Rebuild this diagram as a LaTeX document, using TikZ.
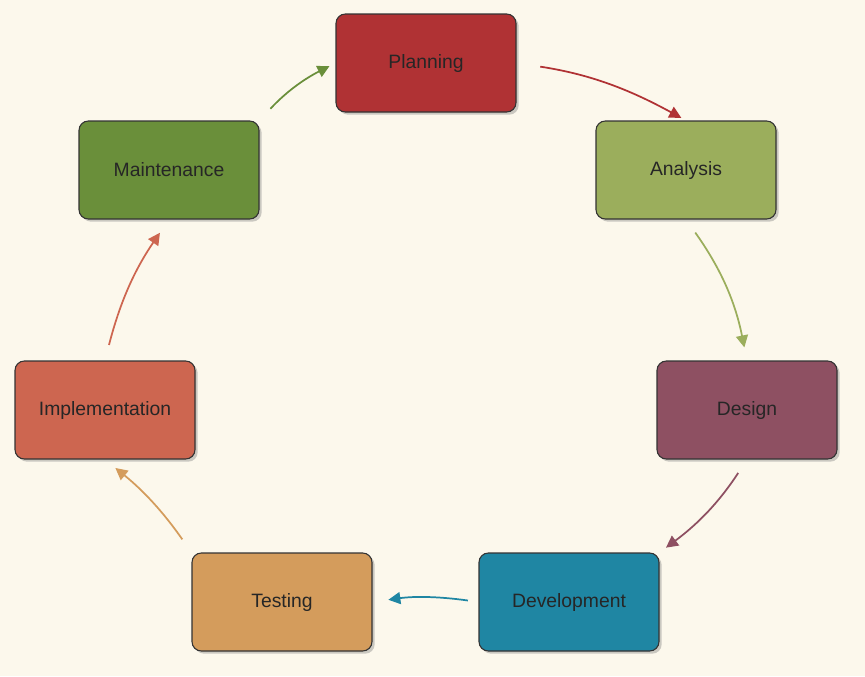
\documentclass[tikz,border=0pt]{standalone}
\usepackage{fontspec}
\setmainfont{Liberation Sans}
\usetikzlibrary{shadows,arrows.meta}
\begin{document}
\begin{tikzpicture}[x=0.75pt,y=-0.75pt,
 box/.style={draw=black!80,line width=0.8pt,rounded corners=7pt,minimum width=180*0.75pt,minimum height=98*0.75pt,font=\fontsize{14.5}{16}\selectfont,text=black!85,drop shadow={shadow xshift=2pt,shadow yshift=-2pt,opacity=0.4}},
 con/.style={line width=1.3pt,-{Triangle[length=9pt,width=9pt]}}]
\fill[color={rgb,255:red,252;green,248;blue,236}] (0,0) rectangle (865,676);
\definecolor{cP}{HTML}{B03234}\definecolor{cA}{HTML}{9BAE5C}\definecolor{cD}{HTML}{8E5062}
\definecolor{cV}{HTML}{1F86A3}\definecolor{cT}{HTML}{D49C5C}\definecolor{cI}{HTML}{CD6650}\definecolor{cM}{HTML}{6A8F3A}
\node[box,fill=cP] (p) at (426,63) {Planning};
\node[box,fill=cA] (a) at (686,170) {Analysis};
\node[box,fill=cD] (d) at (747,410) {Design};
\node[box,fill=cV] (v) at (569,602) {Development};
\node[box,fill=cT] (t) at (282,602) {Testing};
\node[box,fill=cI] (i) at (105,410) {Implementation};
\node[box,fill=cM] (m) at (169,170) {Maintenance};
\draw[con,cM,shorten <=12pt,shorten >=5pt] (m.north east) to[bend left=10] (p.west);
\draw[con,cP,shorten <=18pt,shorten >=4pt] (p.east) to[bend left=10] (a.north);
\draw[con,cA,shorten <=12pt,shorten >=10pt] (a.south) to[bend left=12] (d.north);
\draw[con,cD,shorten <=12pt,shorten >=6pt] (d.south) to[bend left=10] (v.north east);
\draw[con,cV,shorten <=8pt,shorten >=12pt] (v.west) to[bend right=8] (t.east);
\draw[con,cT,shorten <=12pt,shorten >=10pt] (t.north west) to[bend right=8] (i.south);
\draw[con,cI,shorten <=12pt,shorten >=12pt] (i.north) to[bend left=10] (m.south);
\end{tikzpicture}
\end{document}
